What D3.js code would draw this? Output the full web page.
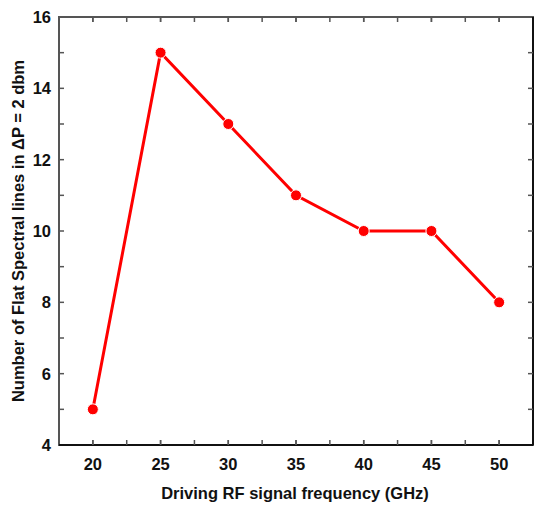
<!DOCTYPE html>
<html><head><meta charset="utf-8">
<script src="https://cdn.jsdelivr.net/npm/d3@7"></script>
<style>body{margin:0;background:#fff}svg{display:block}text{font-family:"Liberation Sans",Arial,sans-serif;font-weight:bold}</style>
</head><body><svg id="c" width="534" height="506"></svg>
<script>
const frequencies = [20, 25, 30, 35, 40, 45, 50];
const flatLines = [5, 15, 13, 11, 10, 10, 8];
const xTicks = [20, 25, 30, 35, 40, 45, 50];
const yTicks = [4, 6, 8, 10, 12, 14, 16];
const xLabel = "Driving RF signal frequency (GHz)";
const yLabel = "Number of Flat Spectral lines in \u0394P = 2 dbm";

const svg = d3.select("#c");
const L = 59, R = 533, T = 17, B = 445;
const x = d3.scaleLinear().domain([17.5, 52.5]).range([L, R]);
const y = d3.scaleLinear().domain([4, 16]).range([B, T]);
const axisColor = "#555";
const tickLen = 5;

const xMinor = d3.range(17.5, 52.6, 2.5).filter(v => v > 17.5 && v < 52.5);
const yMinor = d3.range(5, 16, 2);

const g = svg.append("g");
g.append("rect").attr("x", L).attr("y", T).attr("width", R - L).attr("height", B - T)
  .attr("fill", "none").attr("stroke", axisColor).attr("stroke-width", 2);
g.append("line").attr("x1", L).attr("x2", R).attr("y1", B).attr("y2", B).attr("stroke", "#111").attr("stroke-width", 2);
g.append("line").attr("x1", R).attr("x2", R).attr("y1", T).attr("y2", B).attr("stroke", "#111").attr("stroke-width", 2);

const xAll = xTicks.concat(xMinor);
g.selectAll(".xtb").data(xAll).join("line")
  .attr("x1", d => x(d)).attr("x2", d => x(d)).attr("y1", B).attr("y2", B - tickLen)
  .attr("stroke", axisColor).attr("stroke-width", 1.5);
g.selectAll(".xtt").data(xAll).join("line")
  .attr("x1", d => x(d)).attr("x2", d => x(d)).attr("y1", T).attr("y2", T + tickLen)
  .attr("stroke", axisColor).attr("stroke-width", 1.5);
const yAll = yTicks.concat(yMinor).filter(v => v > 4 && v < 16);
g.selectAll(".ytl").data(yAll).join("line")
  .attr("x1", L).attr("x2", L + tickLen).attr("y1", d => y(d)).attr("y2", d => y(d))
  .attr("stroke", axisColor).attr("stroke-width", 1.5);
g.selectAll(".ytr").data(yAll).join("line")
  .attr("x1", R).attr("x2", R - tickLen).attr("y1", d => y(d)).attr("y2", d => y(d))
  .attr("stroke", axisColor).attr("stroke-width", 1.5);

g.selectAll(".xl").data(xTicks).join("text")
  .attr("x", d => x(d)).attr("y", 470).attr("text-anchor", "middle")
  .attr("font-size", 16.5).attr("fill", "#111").text(d => d);
g.selectAll(".yl").data(yTicks).join("text")
  .attr("x", 51).attr("y", d => y(d) + 6).attr("text-anchor", "end")
  .attr("font-size", 16.5).attr("fill", "#111").text(d => d);

svg.append("text").attr("x", 295).attr("y", 499).attr("text-anchor", "middle")
  .attr("font-size", 16.5).attr("fill", "#111").text(xLabel);
svg.append("text").attr("transform", `translate(24,${(T + B) / 2}) rotate(-90)`)
  .attr("text-anchor", "middle").attr("font-size", 16.5).attr("fill", "#111").text(yLabel);

const pts = frequencies.map((f, i) => [f, flatLines[i]]);
svg.append("path").datum(pts)
  .attr("d", d3.line().x(d => x(d[0])).y(d => y(d[1])))
  .attr("fill", "none").attr("stroke", "#f00").attr("stroke-width", 3);
svg.selectAll(".pt").data(pts).join("circle")
  .attr("cx", d => x(d[0])).attr("cy", d => y(d[1])).attr("r", 5.5)
  .attr("fill", "#f00").attr("stroke", "#fff").attr("stroke-width", 1);
</script></body></html>
